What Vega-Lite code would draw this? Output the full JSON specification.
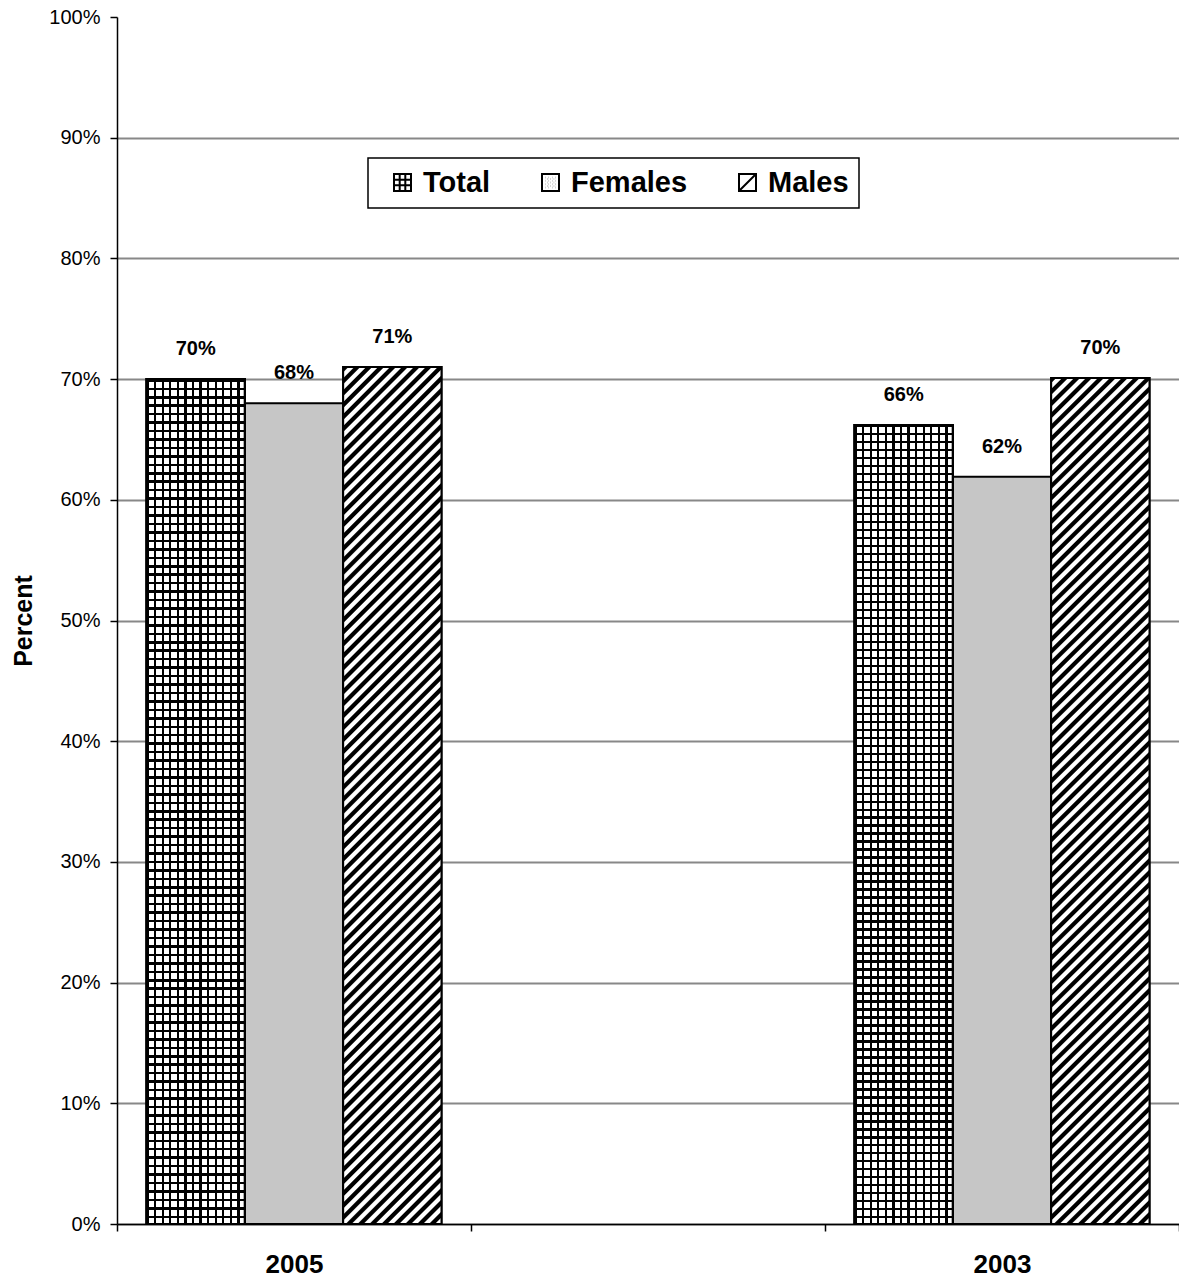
{
"$schema": "https://vega.github.io/schema/vega-lite/v6.json",
"width": 1062,
"height": 1207,
"autosize": "none",
"padding": {"left": 117, "top": 17, "right": 0, "bottom": 53},
"background": "#ffffff",
"config": {"view": {"stroke": null}, "font": "Liberation Sans", "legend": {"strokeWidth": 1.5}},
"data": {"values": [
{"year": "2005", "series": "Total", "value": 0.700},
{"year": "2005", "series": "Females", "value": 0.680},
{"year": "2005", "series": "Males", "value": 0.710},
{"year": "2003", "series": "Total", "value": 0.662},
{"year": "2003", "series": "Females", "value": 0.619},
{"year": "2003", "series": "Males", "value": 0.701}
]},
"encoding": {
"x": {"field": "year", "type": "nominal", "sort": null,
 "scale": {"domain": ["2005", "gap", "2003"], "paddingInner": 0, "paddingOuter": 0},
 "axis": {"title": null, "labelExpr": "datum.value == 'gap' ? '' : datum.value", "labelAngle": 0, "labelFontSize": 26, "labelFontWeight": "bold", "labelColor": "#000", "labelPadding": 20, "tickBand": "extent", "tickSize": 7, "tickColor": "#000", "tickWidth": 1.5, "domainColor": "#000", "domainWidth": 1.5, "grid": false}},
"xOffset": {"field": "series", "type": "nominal", "sort": null, "scale": {"domain": ["Total", "Females", "Males"], "paddingInner": 0, "paddingOuter": 0.3}},
"y": {"field": "value", "type": "quantitative",
 "scale": {"domain": [0, 1], "nice": false},
 "axis": {"values": [0, 0.1, 0.2, 0.3, 0.4, 0.5, 0.6, 0.7, 0.8, 0.9, 1], "format": ".0%", "labelFontSize": 20, "labelColor": "#000", "labelPadding": 10, "tickSize": 7, "tickColor": "#000", "tickWidth": 1.5, "domainColor": "#000", "domainWidth": 1.5, "grid": true, "gridColor": "#888888", "gridWidth": 2, "gridOpacity": {"condition": {"test": "datum.value >= 1", "value": 0}, "value": 1}, "title": "Percent", "titleFontSize": 25, "titleFontWeight": "bold", "titleColor": "#000", "titlePadding": 12}}
},
"layer": [
{"mark": {"type": "point", "filled": false, "color": "#000", "strokeWidth": 2, "strokeCap": "square", "opacity": 1},
 "encoding": {"y": {"datum": 0.3},
  "shape": {"field": "series", "type": "nominal", "sort": null,
  "scale": {"domain": ["Total", "Females", "Males"], "range": [
   "M-1,-1H1V1H-1Z M-0.33,-1V1 M0.33,-1V1 M-1,-0.33H1 M-1,0.33H1",
   "M-1,-1H1V1H-1Z M-0.6,-0.6h0.02 M-0.2,-0.6h0.02 M0.2,-0.6h0.02 M0.6,-0.6h0.02 M-0.4,-0.4h0.02 M0,-0.4h0.02 M0.4,-0.4h0.02 M-0.6,-0.2h0.02 M-0.2,-0.2h0.02 M0.2,-0.2h0.02 M0.6,-0.2h0.02 M-0.4,0h0.02 M0,0h0.02 M0.4,0h0.02 M-0.6,0.2h0.02 M-0.2,0.2h0.02 M0.2,0.2h0.02 M0.6,0.2h0.02 M-0.4,0.4h0.02 M0,0.4h0.02 M0.4,0.4h0.02 M-0.6,0.6h0.02 M-0.2,0.6h0.02 M0.2,0.6h0.02 M0.6,0.6h0.02",
   "M-1,-1H1V1H-1Z M-1,1L1,-1"]},
  "legend": {"title": null, "orient": "none", "legendX": 251, "legendY": 141, "direction": "horizontal", "gridAlign": "none", "fillColor": "#fff", "strokeColor": "#000", "padding": 10, "columnPadding": 35, "labelOffset": 6, "labelFontSize": 29, "labelFontWeight": "bold", "labelColor": "#000", "labelLimit": 300, "symbolSize": 289, "symbolStrokeWidth": 2, "symbolOpacity": 1, "symbolOffset": 10}
  }}},
{"mark": {"type": "bar", "fill": "#c6c6c6", "stroke": "#000", "strokeWidth": 2}},
{"transform": [{"filter": "datum.series === 'Total'"}],
 "mark": {"type": "bar", "stroke": "#000", "strokeWidth": 2, "fill": {"gradient": "linear", "x1": 0, "y1": 0, "x2": 1, "y2": 0, "stops": [
{"offset":0,"color":"#000"},{"offset":0.0231,"color":"#000"},{"offset":0.0231,"color":"#fff"},{"offset":0.0769,"color":"#fff"},
{"offset":0.0769,"color":"#000"},{"offset":0.1,"color":"#000"},{"offset":0.1,"color":"#fff"},{"offset":0.1538,"color":"#fff"},
{"offset":0.1538,"color":"#000"},{"offset":0.1769,"color":"#000"},{"offset":0.1769,"color":"#fff"},{"offset":0.2308,"color":"#fff"},
{"offset":0.2308,"color":"#000"},{"offset":0.2539,"color":"#000"},{"offset":0.2539,"color":"#fff"},{"offset":0.3077,"color":"#fff"},
{"offset":0.3077,"color":"#000"},{"offset":0.3308,"color":"#000"},{"offset":0.3308,"color":"#fff"},{"offset":0.3846,"color":"#fff"},
{"offset":0.3846,"color":"#000"},{"offset":0.4077,"color":"#000"},{"offset":0.4077,"color":"#fff"},{"offset":0.4615,"color":"#fff"},
{"offset":0.4615,"color":"#000"},{"offset":0.4846,"color":"#000"},{"offset":0.4846,"color":"#fff"},{"offset":0.5385,"color":"#fff"},
{"offset":0.5385,"color":"#000"},{"offset":0.5616,"color":"#000"},{"offset":0.5616,"color":"#fff"},{"offset":0.6154,"color":"#fff"},
{"offset":0.6154,"color":"#000"},{"offset":0.6385,"color":"#000"},{"offset":0.6385,"color":"#fff"},{"offset":0.6923,"color":"#fff"},
{"offset":0.6923,"color":"#000"},{"offset":0.7154,"color":"#000"},{"offset":0.7154,"color":"#fff"},{"offset":0.7692,"color":"#fff"},
{"offset":0.7692,"color":"#000"},{"offset":0.7923,"color":"#000"},{"offset":0.7923,"color":"#fff"},{"offset":0.8462,"color":"#fff"},
{"offset":0.8462,"color":"#000"},{"offset":0.8693,"color":"#000"},{"offset":0.8693,"color":"#fff"},{"offset":0.9231,"color":"#fff"},
{"offset":0.9231,"color":"#000"},{"offset":0.9462,"color":"#000"},{"offset":0.9462,"color":"#fff"},{"offset":1,"color":"#fff"}
 ]}}},
{"transform": [{"filter": "datum.series === 'Total'"}],
 "mark": {"type": "bar", "stroke": "#000", "strokeWidth": 2, "fill": {"gradient": "linear", "x1": 0, "y1": 0, "x2": 0, "y2": 1, "stops": [
{"offset":0,"color":"#000"},{"offset":0.003,"color":"#000"},{"offset":0.003,"color":"#0000"},{"offset":0.01,"color":"#0000"},
{"offset":0.01,"color":"#000"},{"offset":0.013,"color":"#000"},{"offset":0.013,"color":"#0000"},{"offset":0.02,"color":"#0000"},
{"offset":0.02,"color":"#000"},{"offset":0.023,"color":"#000"},{"offset":0.023,"color":"#0000"},{"offset":0.03,"color":"#0000"},
{"offset":0.03,"color":"#000"},{"offset":0.033,"color":"#000"},{"offset":0.033,"color":"#0000"},{"offset":0.04,"color":"#0000"},
{"offset":0.04,"color":"#000"},{"offset":0.043,"color":"#000"},{"offset":0.043,"color":"#0000"},{"offset":0.05,"color":"#0000"},
{"offset":0.05,"color":"#000"},{"offset":0.053,"color":"#000"},{"offset":0.053,"color":"#0000"},{"offset":0.06,"color":"#0000"},
{"offset":0.06,"color":"#000"},{"offset":0.063,"color":"#000"},{"offset":0.063,"color":"#0000"},{"offset":0.07,"color":"#0000"},
{"offset":0.07,"color":"#000"},{"offset":0.073,"color":"#000"},{"offset":0.073,"color":"#0000"},{"offset":0.08,"color":"#0000"},
{"offset":0.08,"color":"#000"},{"offset":0.083,"color":"#000"},{"offset":0.083,"color":"#0000"},{"offset":0.09,"color":"#0000"},
{"offset":0.09,"color":"#000"},{"offset":0.093,"color":"#000"},{"offset":0.093,"color":"#0000"},{"offset":0.1,"color":"#0000"},
{"offset":0.1,"color":"#000"},{"offset":0.103,"color":"#000"},{"offset":0.103,"color":"#0000"},{"offset":0.11,"color":"#0000"},
{"offset":0.11,"color":"#000"},{"offset":0.113,"color":"#000"},{"offset":0.113,"color":"#0000"},{"offset":0.12,"color":"#0000"},
{"offset":0.12,"color":"#000"},{"offset":0.123,"color":"#000"},{"offset":0.123,"color":"#0000"},{"offset":0.13,"color":"#0000"},
{"offset":0.13,"color":"#000"},{"offset":0.133,"color":"#000"},{"offset":0.133,"color":"#0000"},{"offset":0.14,"color":"#0000"},
{"offset":0.14,"color":"#000"},{"offset":0.143,"color":"#000"},{"offset":0.143,"color":"#0000"},{"offset":0.15,"color":"#0000"},
{"offset":0.15,"color":"#000"},{"offset":0.153,"color":"#000"},{"offset":0.153,"color":"#0000"},{"offset":0.16,"color":"#0000"},
{"offset":0.16,"color":"#000"},{"offset":0.163,"color":"#000"},{"offset":0.163,"color":"#0000"},{"offset":0.17,"color":"#0000"},
{"offset":0.17,"color":"#000"},{"offset":0.173,"color":"#000"},{"offset":0.173,"color":"#0000"},{"offset":0.18,"color":"#0000"},
{"offset":0.18,"color":"#000"},{"offset":0.183,"color":"#000"},{"offset":0.183,"color":"#0000"},{"offset":0.19,"color":"#0000"},
{"offset":0.19,"color":"#000"},{"offset":0.193,"color":"#000"},{"offset":0.193,"color":"#0000"},{"offset":0.2,"color":"#0000"},
{"offset":0.2,"color":"#000"},{"offset":0.203,"color":"#000"},{"offset":0.203,"color":"#0000"},{"offset":0.21,"color":"#0000"},
{"offset":0.21,"color":"#000"},{"offset":0.213,"color":"#000"},{"offset":0.213,"color":"#0000"},{"offset":0.22,"color":"#0000"},
{"offset":0.22,"color":"#000"},{"offset":0.223,"color":"#000"},{"offset":0.223,"color":"#0000"},{"offset":0.23,"color":"#0000"},
{"offset":0.23,"color":"#000"},{"offset":0.233,"color":"#000"},{"offset":0.233,"color":"#0000"},{"offset":0.24,"color":"#0000"},
{"offset":0.24,"color":"#000"},{"offset":0.243,"color":"#000"},{"offset":0.243,"color":"#0000"},{"offset":0.25,"color":"#0000"},
{"offset":0.25,"color":"#000"},{"offset":0.253,"color":"#000"},{"offset":0.253,"color":"#0000"},{"offset":0.26,"color":"#0000"},
{"offset":0.26,"color":"#000"},{"offset":0.263,"color":"#000"},{"offset":0.263,"color":"#0000"},{"offset":0.27,"color":"#0000"},
{"offset":0.27,"color":"#000"},{"offset":0.273,"color":"#000"},{"offset":0.273,"color":"#0000"},{"offset":0.28,"color":"#0000"},
{"offset":0.28,"color":"#000"},{"offset":0.283,"color":"#000"},{"offset":0.283,"color":"#0000"},{"offset":0.29,"color":"#0000"},
{"offset":0.29,"color":"#000"},{"offset":0.293,"color":"#000"},{"offset":0.293,"color":"#0000"},{"offset":0.3,"color":"#0000"},
{"offset":0.3,"color":"#000"},{"offset":0.303,"color":"#000"},{"offset":0.303,"color":"#0000"},{"offset":0.31,"color":"#0000"},
{"offset":0.31,"color":"#000"},{"offset":0.313,"color":"#000"},{"offset":0.313,"color":"#0000"},{"offset":0.32,"color":"#0000"},
{"offset":0.32,"color":"#000"},{"offset":0.323,"color":"#000"},{"offset":0.323,"color":"#0000"},{"offset":0.33,"color":"#0000"},
{"offset":0.33,"color":"#000"},{"offset":0.333,"color":"#000"},{"offset":0.333,"color":"#0000"},{"offset":0.34,"color":"#0000"},
{"offset":0.34,"color":"#000"},{"offset":0.343,"color":"#000"},{"offset":0.343,"color":"#0000"},{"offset":0.35,"color":"#0000"},
{"offset":0.35,"color":"#000"},{"offset":0.353,"color":"#000"},{"offset":0.353,"color":"#0000"},{"offset":0.36,"color":"#0000"},
{"offset":0.36,"color":"#000"},{"offset":0.363,"color":"#000"},{"offset":0.363,"color":"#0000"},{"offset":0.37,"color":"#0000"},
{"offset":0.37,"color":"#000"},{"offset":0.373,"color":"#000"},{"offset":0.373,"color":"#0000"},{"offset":0.38,"color":"#0000"},
{"offset":0.38,"color":"#000"},{"offset":0.383,"color":"#000"},{"offset":0.383,"color":"#0000"},{"offset":0.39,"color":"#0000"},
{"offset":0.39,"color":"#000"},{"offset":0.393,"color":"#000"},{"offset":0.393,"color":"#0000"},{"offset":0.4,"color":"#0000"},
{"offset":0.4,"color":"#000"},{"offset":0.403,"color":"#000"},{"offset":0.403,"color":"#0000"},{"offset":0.41,"color":"#0000"},
{"offset":0.41,"color":"#000"},{"offset":0.413,"color":"#000"},{"offset":0.413,"color":"#0000"},{"offset":0.42,"color":"#0000"},
{"offset":0.42,"color":"#000"},{"offset":0.423,"color":"#000"},{"offset":0.423,"color":"#0000"},{"offset":0.43,"color":"#0000"},
{"offset":0.43,"color":"#000"},{"offset":0.433,"color":"#000"},{"offset":0.433,"color":"#0000"},{"offset":0.44,"color":"#0000"},
{"offset":0.44,"color":"#000"},{"offset":0.443,"color":"#000"},{"offset":0.443,"color":"#0000"},{"offset":0.45,"color":"#0000"},
{"offset":0.45,"color":"#000"},{"offset":0.453,"color":"#000"},{"offset":0.453,"color":"#0000"},{"offset":0.46,"color":"#0000"},
{"offset":0.46,"color":"#000"},{"offset":0.463,"color":"#000"},{"offset":0.463,"color":"#0000"},{"offset":0.47,"color":"#0000"},
{"offset":0.47,"color":"#000"},{"offset":0.473,"color":"#000"},{"offset":0.473,"color":"#0000"},{"offset":0.48,"color":"#0000"},
{"offset":0.48,"color":"#000"},{"offset":0.483,"color":"#000"},{"offset":0.483,"color":"#0000"},{"offset":0.49,"color":"#0000"},
{"offset":0.49,"color":"#000"},{"offset":0.493,"color":"#000"},{"offset":0.493,"color":"#0000"},{"offset":0.5,"color":"#0000"},
{"offset":0.5,"color":"#000"},{"offset":0.503,"color":"#000"},{"offset":0.503,"color":"#0000"},{"offset":0.51,"color":"#0000"},
{"offset":0.51,"color":"#000"},{"offset":0.513,"color":"#000"},{"offset":0.513,"color":"#0000"},{"offset":0.52,"color":"#0000"},
{"offset":0.52,"color":"#000"},{"offset":0.523,"color":"#000"},{"offset":0.523,"color":"#0000"},{"offset":0.53,"color":"#0000"},
{"offset":0.53,"color":"#000"},{"offset":0.533,"color":"#000"},{"offset":0.533,"color":"#0000"},{"offset":0.54,"color":"#0000"},
{"offset":0.54,"color":"#000"},{"offset":0.543,"color":"#000"},{"offset":0.543,"color":"#0000"},{"offset":0.55,"color":"#0000"},
{"offset":0.55,"color":"#000"},{"offset":0.553,"color":"#000"},{"offset":0.553,"color":"#0000"},{"offset":0.56,"color":"#0000"},
{"offset":0.56,"color":"#000"},{"offset":0.563,"color":"#000"},{"offset":0.563,"color":"#0000"},{"offset":0.57,"color":"#0000"},
{"offset":0.57,"color":"#000"},{"offset":0.573,"color":"#000"},{"offset":0.573,"color":"#0000"},{"offset":0.58,"color":"#0000"},
{"offset":0.58,"color":"#000"},{"offset":0.583,"color":"#000"},{"offset":0.583,"color":"#0000"},{"offset":0.59,"color":"#0000"},
{"offset":0.59,"color":"#000"},{"offset":0.593,"color":"#000"},{"offset":0.593,"color":"#0000"},{"offset":0.6,"color":"#0000"},
{"offset":0.6,"color":"#000"},{"offset":0.603,"color":"#000"},{"offset":0.603,"color":"#0000"},{"offset":0.61,"color":"#0000"},
{"offset":0.61,"color":"#000"},{"offset":0.613,"color":"#000"},{"offset":0.613,"color":"#0000"},{"offset":0.62,"color":"#0000"},
{"offset":0.62,"color":"#000"},{"offset":0.623,"color":"#000"},{"offset":0.623,"color":"#0000"},{"offset":0.63,"color":"#0000"},
{"offset":0.63,"color":"#000"},{"offset":0.633,"color":"#000"},{"offset":0.633,"color":"#0000"},{"offset":0.64,"color":"#0000"},
{"offset":0.64,"color":"#000"},{"offset":0.643,"color":"#000"},{"offset":0.643,"color":"#0000"},{"offset":0.65,"color":"#0000"},
{"offset":0.65,"color":"#000"},{"offset":0.653,"color":"#000"},{"offset":0.653,"color":"#0000"},{"offset":0.66,"color":"#0000"},
{"offset":0.66,"color":"#000"},{"offset":0.663,"color":"#000"},{"offset":0.663,"color":"#0000"},{"offset":0.67,"color":"#0000"},
{"offset":0.67,"color":"#000"},{"offset":0.673,"color":"#000"},{"offset":0.673,"color":"#0000"},{"offset":0.68,"color":"#0000"},
{"offset":0.68,"color":"#000"},{"offset":0.683,"color":"#000"},{"offset":0.683,"color":"#0000"},{"offset":0.69,"color":"#0000"},
{"offset":0.69,"color":"#000"},{"offset":0.693,"color":"#000"},{"offset":0.693,"color":"#0000"},{"offset":0.7,"color":"#0000"},
{"offset":0.7,"color":"#000"},{"offset":0.703,"color":"#000"},{"offset":0.703,"color":"#0000"},{"offset":0.71,"color":"#0000"},
{"offset":0.71,"color":"#000"},{"offset":0.713,"color":"#000"},{"offset":0.713,"color":"#0000"},{"offset":0.72,"color":"#0000"},
{"offset":0.72,"color":"#000"},{"offset":0.723,"color":"#000"},{"offset":0.723,"color":"#0000"},{"offset":0.73,"color":"#0000"},
{"offset":0.73,"color":"#000"},{"offset":0.733,"color":"#000"},{"offset":0.733,"color":"#0000"},{"offset":0.74,"color":"#0000"},
{"offset":0.74,"color":"#000"},{"offset":0.743,"color":"#000"},{"offset":0.743,"color":"#0000"},{"offset":0.75,"color":"#0000"},
{"offset":0.75,"color":"#000"},{"offset":0.753,"color":"#000"},{"offset":0.753,"color":"#0000"},{"offset":0.76,"color":"#0000"},
{"offset":0.76,"color":"#000"},{"offset":0.763,"color":"#000"},{"offset":0.763,"color":"#0000"},{"offset":0.77,"color":"#0000"},
{"offset":0.77,"color":"#000"},{"offset":0.773,"color":"#000"},{"offset":0.773,"color":"#0000"},{"offset":0.78,"color":"#0000"},
{"offset":0.78,"color":"#000"},{"offset":0.783,"color":"#000"},{"offset":0.783,"color":"#0000"},{"offset":0.79,"color":"#0000"},
{"offset":0.79,"color":"#000"},{"offset":0.793,"color":"#000"},{"offset":0.793,"color":"#0000"},{"offset":0.8,"color":"#0000"},
{"offset":0.8,"color":"#000"},{"offset":0.803,"color":"#000"},{"offset":0.803,"color":"#0000"},{"offset":0.81,"color":"#0000"},
{"offset":0.81,"color":"#000"},{"offset":0.813,"color":"#000"},{"offset":0.813,"color":"#0000"},{"offset":0.82,"color":"#0000"},
{"offset":0.82,"color":"#000"},{"offset":0.823,"color":"#000"},{"offset":0.823,"color":"#0000"},{"offset":0.83,"color":"#0000"},
{"offset":0.83,"color":"#000"},{"offset":0.833,"color":"#000"},{"offset":0.833,"color":"#0000"},{"offset":0.84,"color":"#0000"},
{"offset":0.84,"color":"#000"},{"offset":0.843,"color":"#000"},{"offset":0.843,"color":"#0000"},{"offset":0.85,"color":"#0000"},
{"offset":0.85,"color":"#000"},{"offset":0.853,"color":"#000"},{"offset":0.853,"color":"#0000"},{"offset":0.86,"color":"#0000"},
{"offset":0.86,"color":"#000"},{"offset":0.863,"color":"#000"},{"offset":0.863,"color":"#0000"},{"offset":0.87,"color":"#0000"},
{"offset":0.87,"color":"#000"},{"offset":0.873,"color":"#000"},{"offset":0.873,"color":"#0000"},{"offset":0.88,"color":"#0000"},
{"offset":0.88,"color":"#000"},{"offset":0.883,"color":"#000"},{"offset":0.883,"color":"#0000"},{"offset":0.89,"color":"#0000"},
{"offset":0.89,"color":"#000"},{"offset":0.893,"color":"#000"},{"offset":0.893,"color":"#0000"},{"offset":0.9,"color":"#0000"},
{"offset":0.9,"color":"#000"},{"offset":0.903,"color":"#000"},{"offset":0.903,"color":"#0000"},{"offset":0.91,"color":"#0000"},
{"offset":0.91,"color":"#000"},{"offset":0.913,"color":"#000"},{"offset":0.913,"color":"#0000"},{"offset":0.92,"color":"#0000"},
{"offset":0.92,"color":"#000"},{"offset":0.923,"color":"#000"},{"offset":0.923,"color":"#0000"},{"offset":0.93,"color":"#0000"},
{"offset":0.93,"color":"#000"},{"offset":0.933,"color":"#000"},{"offset":0.933,"color":"#0000"},{"offset":0.94,"color":"#0000"},
{"offset":0.94,"color":"#000"},{"offset":0.943,"color":"#000"},{"offset":0.943,"color":"#0000"},{"offset":0.95,"color":"#0000"},
{"offset":0.95,"color":"#000"},{"offset":0.953,"color":"#000"},{"offset":0.953,"color":"#0000"},{"offset":0.96,"color":"#0000"},
{"offset":0.96,"color":"#000"},{"offset":0.963,"color":"#000"},{"offset":0.963,"color":"#0000"},{"offset":0.97,"color":"#0000"},
{"offset":0.97,"color":"#000"},{"offset":0.973,"color":"#000"},{"offset":0.973,"color":"#0000"},{"offset":0.98,"color":"#0000"},
{"offset":0.98,"color":"#000"},{"offset":0.983,"color":"#000"},{"offset":0.983,"color":"#0000"},{"offset":0.99,"color":"#0000"},
{"offset":0.99,"color":"#000"},{"offset":0.993,"color":"#000"},{"offset":0.993,"color":"#0000"},{"offset":1,"color":"#0000"}
 ]}}},
{"transform": [{"filter": "datum.series === 'Males'"}],
 "mark": {"type": "bar", "stroke": "#000", "strokeWidth": 2, "fill": {"gradient": "linear", "x1": 0, "y1": 0, "x2": 0.1267, "y2": 1.1006, "stops": [
{"offset":0,"color":"#000"},{"offset":0.00475,"color":"#000"},{"offset":0.00625,"color":"#fff"},{"offset":0.011,"color":"#fff"},
{"offset":0.0125,"color":"#000"},{"offset":0.01725,"color":"#000"},{"offset":0.01875,"color":"#fff"},{"offset":0.0235,"color":"#fff"},
{"offset":0.025,"color":"#000"},{"offset":0.02975,"color":"#000"},{"offset":0.03125,"color":"#fff"},{"offset":0.036,"color":"#fff"},
{"offset":0.0375,"color":"#000"},{"offset":0.04225,"color":"#000"},{"offset":0.04375,"color":"#fff"},{"offset":0.0485,"color":"#fff"},
{"offset":0.05,"color":"#000"},{"offset":0.05475,"color":"#000"},{"offset":0.05625,"color":"#fff"},{"offset":0.061,"color":"#fff"},
{"offset":0.0625,"color":"#000"},{"offset":0.06725,"color":"#000"},{"offset":0.06875,"color":"#fff"},{"offset":0.0735,"color":"#fff"},
{"offset":0.075,"color":"#000"},{"offset":0.07975,"color":"#000"},{"offset":0.08125,"color":"#fff"},{"offset":0.086,"color":"#fff"},
{"offset":0.0875,"color":"#000"},{"offset":0.09225,"color":"#000"},{"offset":0.09375,"color":"#fff"},{"offset":0.0985,"color":"#fff"},
{"offset":0.1,"color":"#000"},{"offset":0.10475,"color":"#000"},{"offset":0.10625,"color":"#fff"},{"offset":0.111,"color":"#fff"},
{"offset":0.1125,"color":"#000"},{"offset":0.11725,"color":"#000"},{"offset":0.11875,"color":"#fff"},{"offset":0.1235,"color":"#fff"},
{"offset":0.125,"color":"#000"},{"offset":0.12975,"color":"#000"},{"offset":0.13125,"color":"#fff"},{"offset":0.136,"color":"#fff"},
{"offset":0.1375,"color":"#000"},{"offset":0.14225,"color":"#000"},{"offset":0.14375,"color":"#fff"},{"offset":0.1485,"color":"#fff"},
{"offset":0.15,"color":"#000"},{"offset":0.15475,"color":"#000"},{"offset":0.15625,"color":"#fff"},{"offset":0.161,"color":"#fff"},
{"offset":0.1625,"color":"#000"},{"offset":0.16725,"color":"#000"},{"offset":0.16875,"color":"#fff"},{"offset":0.1735,"color":"#fff"},
{"offset":0.175,"color":"#000"},{"offset":0.17975,"color":"#000"},{"offset":0.18125,"color":"#fff"},{"offset":0.186,"color":"#fff"},
{"offset":0.1875,"color":"#000"},{"offset":0.19225,"color":"#000"},{"offset":0.19375,"color":"#fff"},{"offset":0.1985,"color":"#fff"},
{"offset":0.2,"color":"#000"},{"offset":0.20475,"color":"#000"},{"offset":0.20625,"color":"#fff"},{"offset":0.211,"color":"#fff"},
{"offset":0.2125,"color":"#000"},{"offset":0.21725,"color":"#000"},{"offset":0.21875,"color":"#fff"},{"offset":0.2235,"color":"#fff"},
{"offset":0.225,"color":"#000"},{"offset":0.22975,"color":"#000"},{"offset":0.23125,"color":"#fff"},{"offset":0.236,"color":"#fff"},
{"offset":0.2375,"color":"#000"},{"offset":0.24225,"color":"#000"},{"offset":0.24375,"color":"#fff"},{"offset":0.2485,"color":"#fff"},
{"offset":0.25,"color":"#000"},{"offset":0.25475,"color":"#000"},{"offset":0.25625,"color":"#fff"},{"offset":0.261,"color":"#fff"},
{"offset":0.2625,"color":"#000"},{"offset":0.26725,"color":"#000"},{"offset":0.26875,"color":"#fff"},{"offset":0.2735,"color":"#fff"},
{"offset":0.275,"color":"#000"},{"offset":0.27975,"color":"#000"},{"offset":0.28125,"color":"#fff"},{"offset":0.286,"color":"#fff"},
{"offset":0.2875,"color":"#000"},{"offset":0.29225,"color":"#000"},{"offset":0.29375,"color":"#fff"},{"offset":0.2985,"color":"#fff"},
{"offset":0.3,"color":"#000"},{"offset":0.30475,"color":"#000"},{"offset":0.30625,"color":"#fff"},{"offset":0.311,"color":"#fff"},
{"offset":0.3125,"color":"#000"},{"offset":0.31725,"color":"#000"},{"offset":0.31875,"color":"#fff"},{"offset":0.3235,"color":"#fff"},
{"offset":0.325,"color":"#000"},{"offset":0.32975,"color":"#000"},{"offset":0.33125,"color":"#fff"},{"offset":0.336,"color":"#fff"},
{"offset":0.3375,"color":"#000"},{"offset":0.34225,"color":"#000"},{"offset":0.34375,"color":"#fff"},{"offset":0.3485,"color":"#fff"},
{"offset":0.35,"color":"#000"},{"offset":0.35475,"color":"#000"},{"offset":0.35625,"color":"#fff"},{"offset":0.361,"color":"#fff"},
{"offset":0.3625,"color":"#000"},{"offset":0.36725,"color":"#000"},{"offset":0.36875,"color":"#fff"},{"offset":0.3735,"color":"#fff"},
{"offset":0.375,"color":"#000"},{"offset":0.37975,"color":"#000"},{"offset":0.38125,"color":"#fff"},{"offset":0.386,"color":"#fff"},
{"offset":0.3875,"color":"#000"},{"offset":0.39225,"color":"#000"},{"offset":0.39375,"color":"#fff"},{"offset":0.3985,"color":"#fff"},
{"offset":0.4,"color":"#000"},{"offset":0.40475,"color":"#000"},{"offset":0.40625,"color":"#fff"},{"offset":0.411,"color":"#fff"},
{"offset":0.4125,"color":"#000"},{"offset":0.41725,"color":"#000"},{"offset":0.41875,"color":"#fff"},{"offset":0.4235,"color":"#fff"},
{"offset":0.425,"color":"#000"},{"offset":0.42975,"color":"#000"},{"offset":0.43125,"color":"#fff"},{"offset":0.436,"color":"#fff"},
{"offset":0.4375,"color":"#000"},{"offset":0.44225,"color":"#000"},{"offset":0.44375,"color":"#fff"},{"offset":0.4485,"color":"#fff"},
{"offset":0.45,"color":"#000"},{"offset":0.45475,"color":"#000"},{"offset":0.45625,"color":"#fff"},{"offset":0.461,"color":"#fff"},
{"offset":0.4625,"color":"#000"},{"offset":0.46725,"color":"#000"},{"offset":0.46875,"color":"#fff"},{"offset":0.4735,"color":"#fff"},
{"offset":0.475,"color":"#000"},{"offset":0.47975,"color":"#000"},{"offset":0.48125,"color":"#fff"},{"offset":0.486,"color":"#fff"},
{"offset":0.4875,"color":"#000"},{"offset":0.49225,"color":"#000"},{"offset":0.49375,"color":"#fff"},{"offset":0.4985,"color":"#fff"},
{"offset":0.5,"color":"#000"},{"offset":0.50475,"color":"#000"},{"offset":0.50625,"color":"#fff"},{"offset":0.511,"color":"#fff"},
{"offset":0.5125,"color":"#000"},{"offset":0.51725,"color":"#000"},{"offset":0.51875,"color":"#fff"},{"offset":0.5235,"color":"#fff"},
{"offset":0.525,"color":"#000"},{"offset":0.52975,"color":"#000"},{"offset":0.53125,"color":"#fff"},{"offset":0.536,"color":"#fff"},
{"offset":0.5375,"color":"#000"},{"offset":0.54225,"color":"#000"},{"offset":0.54375,"color":"#fff"},{"offset":0.5485,"color":"#fff"},
{"offset":0.55,"color":"#000"},{"offset":0.55475,"color":"#000"},{"offset":0.55625,"color":"#fff"},{"offset":0.561,"color":"#fff"},
{"offset":0.5625,"color":"#000"},{"offset":0.56725,"color":"#000"},{"offset":0.56875,"color":"#fff"},{"offset":0.5735,"color":"#fff"},
{"offset":0.575,"color":"#000"},{"offset":0.57975,"color":"#000"},{"offset":0.58125,"color":"#fff"},{"offset":0.586,"color":"#fff"},
{"offset":0.5875,"color":"#000"},{"offset":0.59225,"color":"#000"},{"offset":0.59375,"color":"#fff"},{"offset":0.5985,"color":"#fff"},
{"offset":0.6,"color":"#000"},{"offset":0.60475,"color":"#000"},{"offset":0.60625,"color":"#fff"},{"offset":0.611,"color":"#fff"},
{"offset":0.6125,"color":"#000"},{"offset":0.61725,"color":"#000"},{"offset":0.61875,"color":"#fff"},{"offset":0.6235,"color":"#fff"},
{"offset":0.625,"color":"#000"},{"offset":0.62975,"color":"#000"},{"offset":0.63125,"color":"#fff"},{"offset":0.636,"color":"#fff"},
{"offset":0.6375,"color":"#000"},{"offset":0.64225,"color":"#000"},{"offset":0.64375,"color":"#fff"},{"offset":0.6485,"color":"#fff"},
{"offset":0.65,"color":"#000"},{"offset":0.65475,"color":"#000"},{"offset":0.65625,"color":"#fff"},{"offset":0.661,"color":"#fff"},
{"offset":0.6625,"color":"#000"},{"offset":0.66725,"color":"#000"},{"offset":0.66875,"color":"#fff"},{"offset":0.6735,"color":"#fff"},
{"offset":0.675,"color":"#000"},{"offset":0.67975,"color":"#000"},{"offset":0.68125,"color":"#fff"},{"offset":0.686,"color":"#fff"},
{"offset":0.6875,"color":"#000"},{"offset":0.69225,"color":"#000"},{"offset":0.69375,"color":"#fff"},{"offset":0.6985,"color":"#fff"},
{"offset":0.7,"color":"#000"},{"offset":0.70475,"color":"#000"},{"offset":0.70625,"color":"#fff"},{"offset":0.711,"color":"#fff"},
{"offset":0.7125,"color":"#000"},{"offset":0.71725,"color":"#000"},{"offset":0.71875,"color":"#fff"},{"offset":0.7235,"color":"#fff"},
{"offset":0.725,"color":"#000"},{"offset":0.72975,"color":"#000"},{"offset":0.73125,"color":"#fff"},{"offset":0.736,"color":"#fff"},
{"offset":0.7375,"color":"#000"},{"offset":0.74225,"color":"#000"},{"offset":0.74375,"color":"#fff"},{"offset":0.7485,"color":"#fff"},
{"offset":0.75,"color":"#000"},{"offset":0.75475,"color":"#000"},{"offset":0.75625,"color":"#fff"},{"offset":0.761,"color":"#fff"},
{"offset":0.7625,"color":"#000"},{"offset":0.76725,"color":"#000"},{"offset":0.76875,"color":"#fff"},{"offset":0.7735,"color":"#fff"},
{"offset":0.775,"color":"#000"},{"offset":0.77975,"color":"#000"},{"offset":0.78125,"color":"#fff"},{"offset":0.786,"color":"#fff"},
{"offset":0.7875,"color":"#000"},{"offset":0.79225,"color":"#000"},{"offset":0.79375,"color":"#fff"},{"offset":0.7985,"color":"#fff"},
{"offset":0.8,"color":"#000"},{"offset":0.80475,"color":"#000"},{"offset":0.80625,"color":"#fff"},{"offset":0.811,"color":"#fff"},
{"offset":0.8125,"color":"#000"},{"offset":0.81725,"color":"#000"},{"offset":0.81875,"color":"#fff"},{"offset":0.8235,"color":"#fff"},
{"offset":0.825,"color":"#000"},{"offset":0.82975,"color":"#000"},{"offset":0.83125,"color":"#fff"},{"offset":0.836,"color":"#fff"},
{"offset":0.8375,"color":"#000"},{"offset":0.84225,"color":"#000"},{"offset":0.84375,"color":"#fff"},{"offset":0.8485,"color":"#fff"},
{"offset":0.85,"color":"#000"},{"offset":0.85475,"color":"#000"},{"offset":0.85625,"color":"#fff"},{"offset":0.861,"color":"#fff"},
{"offset":0.8625,"color":"#000"},{"offset":0.86725,"color":"#000"},{"offset":0.86875,"color":"#fff"},{"offset":0.8735,"color":"#fff"},
{"offset":0.875,"color":"#000"},{"offset":0.87975,"color":"#000"},{"offset":0.88125,"color":"#fff"},{"offset":0.886,"color":"#fff"},
{"offset":0.8875,"color":"#000"},{"offset":0.89225,"color":"#000"},{"offset":0.89375,"color":"#fff"},{"offset":0.8985,"color":"#fff"},
{"offset":0.9,"color":"#000"},{"offset":0.90475,"color":"#000"},{"offset":0.90625,"color":"#fff"},{"offset":0.911,"color":"#fff"},
{"offset":0.9125,"color":"#000"},{"offset":0.91725,"color":"#000"},{"offset":0.91875,"color":"#fff"},{"offset":0.9235,"color":"#fff"},
{"offset":0.925,"color":"#000"},{"offset":0.92975,"color":"#000"},{"offset":0.93125,"color":"#fff"},{"offset":0.936,"color":"#fff"},
{"offset":0.9375,"color":"#000"},{"offset":0.94225,"color":"#000"},{"offset":0.94375,"color":"#fff"},{"offset":0.9485,"color":"#fff"},
{"offset":0.95,"color":"#000"},{"offset":0.95475,"color":"#000"},{"offset":0.95625,"color":"#fff"},{"offset":0.961,"color":"#fff"},
{"offset":0.9625,"color":"#000"},{"offset":0.96725,"color":"#000"},{"offset":0.96875,"color":"#fff"},{"offset":0.9735,"color":"#fff"},
{"offset":0.975,"color":"#000"},{"offset":0.97975,"color":"#000"},{"offset":0.98125,"color":"#fff"},{"offset":0.986,"color":"#fff"},
{"offset":0.9875,"color":"#000"},{"offset":0.99225,"color":"#000"},{"offset":0.99375,"color":"#fff"},{"offset":0.9985,"color":"#fff"},
{"offset":1,"color":"#000"}
 ]}}},
{"mark": {"type": "text", "dy": -30, "fontSize": 20, "fontWeight": "bold", "color": "#000", "baseline": "middle"},
 "encoding": {"text": {"field": "value", "type": "quantitative", "format": ".0%"}}}
]
}
